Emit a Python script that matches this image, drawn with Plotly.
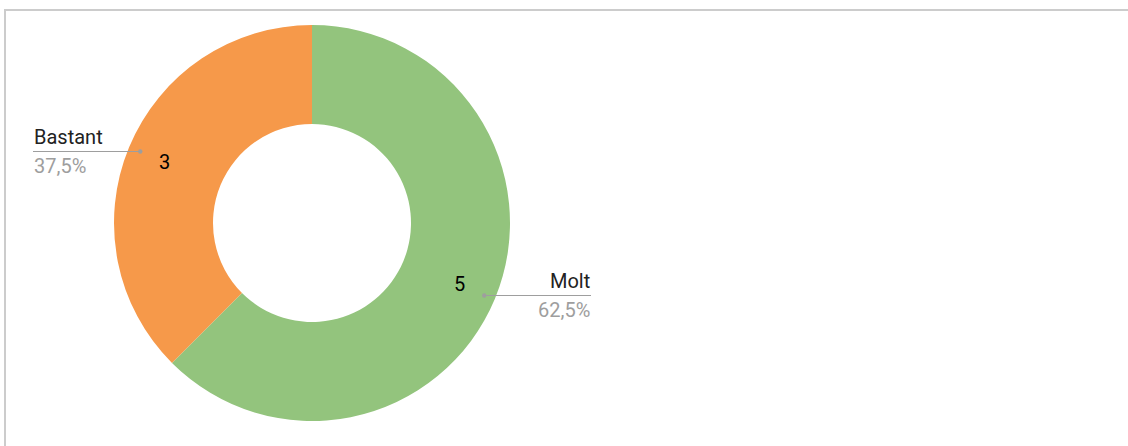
import math
import plotly.graph_objects as go

labels = ["Molt", "Bastant"]
values = [5, 3]
colors = ["#93c47d", "#f6994a"]
pct_labels = ["62,5%", "37,5%"]

W, H = 1128, 446

def px(x):
    return x / W

def py(y):
    return 1 - y / H

# pie geometry (pixels)
CX, CY, R = 312, 223, 198
LABEL_R = 160

fig = go.Figure()
fig.add_trace(go.Pie(
    labels=labels,
    values=values,
    marker=dict(colors=colors, line=dict(width=0)),
    hole=0.5,
    sort=False,
    direction="clockwise",
    rotation=0,
    textinfo="none",
    domain=dict(x=[px(CX - R), px(CX + R)], y=[py(CY + R), py(CY - R)]),
    showlegend=False,
    hoverinfo="label+value+percent",
))

# value labels placed at slice mid-angles computed from the data
total = sum(values)
annotations = []
cum = 0
for lab, v in zip(labels, values):
    mid = (cum + v / 2) / total * 2 * math.pi
    cum += v
    x = CX + LABEL_R * math.sin(mid)
    y = CY - LABEL_R * math.cos(mid)
    annotations.append(dict(x=px(x), y=py(y), xref="paper", yref="paper", text=str(v),
                            showarrow=False, xanchor="center", yanchor="middle",
                            font=dict(family="Roboto", size=20, color="#000000")))

shapes = [
    # chart border
    dict(type="rect", xref="paper", yref="paper",
         x0=px(5), x1=1.05, y0=-0.05, y1=py(10),
         line=dict(color="#cccccc", width=2), fillcolor="rgba(0,0,0,0)", layer="below"),
    # Bastant leader
    dict(type="line", xref="paper", yref="paper",
         x0=px(33), x1=px(140), y0=py(151.5), y1=py(151.5),
         line=dict(color="#9e9e9e", width=1.2)),
    dict(type="circle", xref="paper", yref="paper",
         x0=px(138), x1=px(142.5), y0=py(149.3), y1=py(153.8),
         line=dict(width=0), fillcolor="#9e9e9e"),
    # Molt leader
    dict(type="line", xref="paper", yref="paper",
         x0=px(484), x1=px(591), y0=py(295.5), y1=py(295.5),
         line=dict(color="#9e9e9e", width=1.2)),
    dict(type="circle", xref="paper", yref="paper",
         x0=px(482), x1=px(486.5), y0=py(293.3), y1=py(297.8),
         line=dict(width=0), fillcolor="#9e9e9e"),
]

annotations += [
    dict(x=px(32), y=py(151), xref="paper", yref="paper", text=labels[1],
         showarrow=False, xanchor="left", yanchor="bottom",
         font=dict(family="Roboto", size=20, color="#222222")),
    dict(x=px(32), y=py(152), xref="paper", yref="paper", text=pct_labels[1],
         showarrow=False, xanchor="left", yanchor="top",
         font=dict(family="Roboto", size=20, color="#9e9e9e")),
    dict(x=px(592), y=py(295), xref="paper", yref="paper", text=labels[0],
         showarrow=False, xanchor="right", yanchor="bottom",
         font=dict(family="Roboto", size=20, color="#222222")),
    dict(x=px(592), y=py(296), xref="paper", yref="paper", text=pct_labels[0],
         showarrow=False, xanchor="right", yanchor="top",
         font=dict(family="Roboto", size=20, color="#9e9e9e")),
]

fig.update_layout(
    width=W, height=H,
    margin=dict(l=0, r=0, t=0, b=0),
    paper_bgcolor="#ffffff",
    plot_bgcolor="#ffffff",
    shapes=shapes,
    annotations=annotations,
    font=dict(family="Roboto"),
)

fig.write_html("out.html", config={"displayModeBar": False},
               post_script="document.body.style.margin='0';")
